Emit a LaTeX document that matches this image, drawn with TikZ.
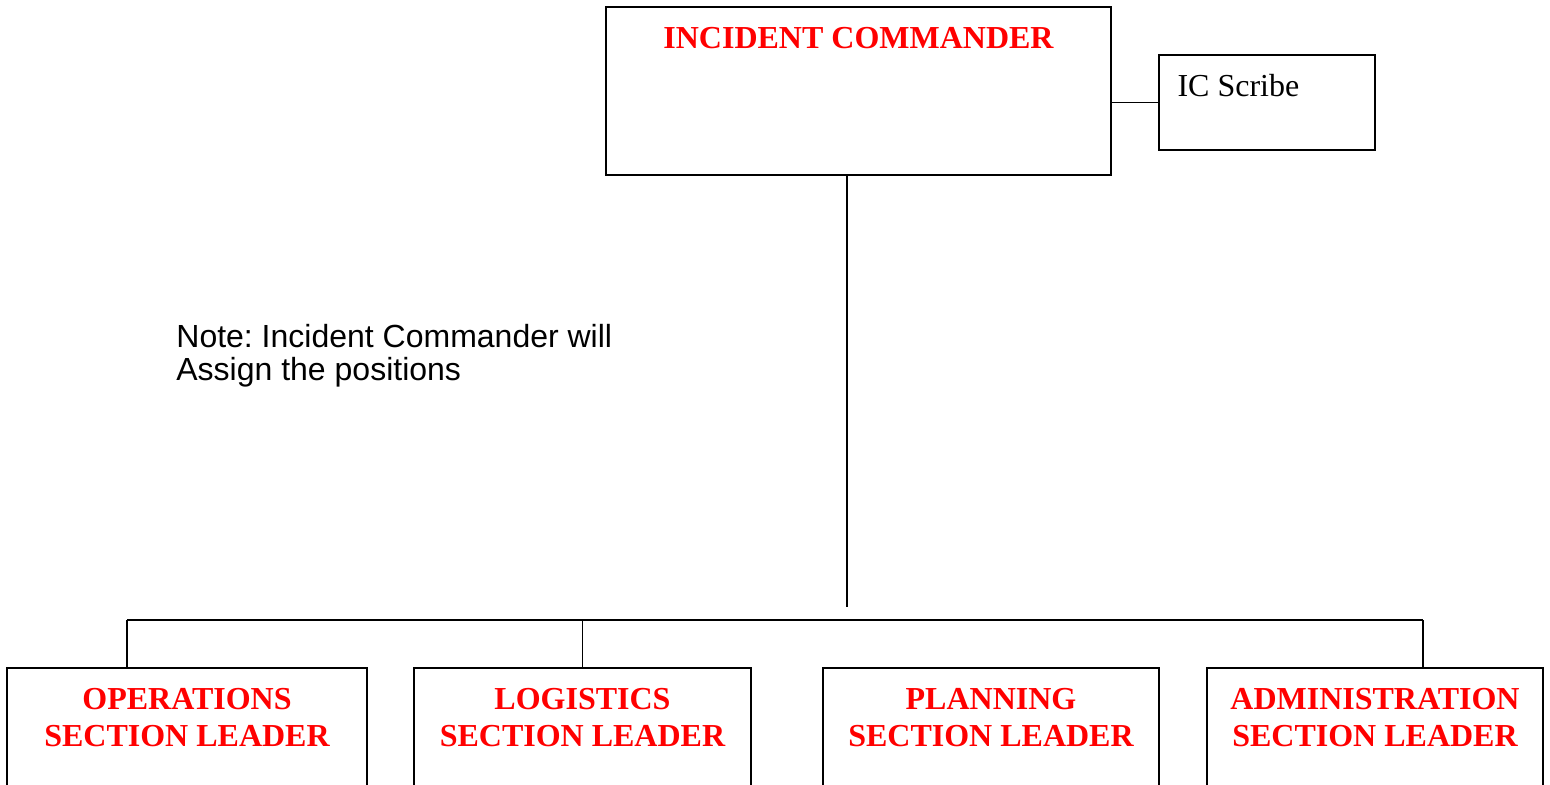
\documentclass[tikz,border=0pt]{standalone}
\usepackage{fontspec}
\setmainfont{Liberation Serif}
\newfontfamily\notefont{Liberation Sans}
\definecolor{titlered}{RGB}{255,0,0}
\frenchspacing
\begin{document}
\begin{tikzpicture}[x=0.5pt,y=-0.5pt,
  boxstyle/.style={draw=black, line width=0.9pt, fill=white, inner sep=0pt},
  titletext/.style={text=titlered, font=\fontsize{16}{18.5}\selectfont\bfseries, align=center, inner sep=0pt},
  linkstyle/.style={draw=black, line width=0.9pt},
]
\useasboundingbox (0,0) rectangle (1550,784);
\clip (0,0) rectangle (1550,784);
\fill[white] (0,0) rectangle (1550,784);

% top boxes
\node[boxstyle, minimum width=252.5pt, minimum height=84pt] (ic) at (858.5,91) {};
\node[boxstyle, minimum width=108pt, minimum height=47.5pt] (scribe) at (1267,102.5) {};

% section boxes (bottom edges run past the picture)
\node[boxstyle, minimum width=180pt, minimum height=66pt] (ops) at (187,734) {};
\node[boxstyle, minimum width=168.5pt, minimum height=66pt] (log) at (582.5,734) {};
\node[boxstyle, minimum width=168pt, minimum height=66pt] (plan) at (991,734) {};
\node[boxstyle, minimum width=168pt, minimum height=66pt] (adm) at (1375,734) {};

% texts
\node[titletext, anchor=north] (ictext) at ([yshift=-10.5pt]ic.north) {INCIDENT COMMANDER};
\node[anchor=base west, inner sep=0pt, font=\fontsize{16}{18.5}\selectfont] (scribetext)
  at ([xshift=9.5pt,yshift=-21pt]scribe.north west) {IC Scribe};
\node[titletext, anchor=north] (opstext) at ([yshift=-10.5pt]ops.north) {OPERATIONS\\SECTION LEADER};
\node[titletext, anchor=north] (logtext) at ([yshift=-10.5pt]log.north) {LOGISTICS\\SECTION LEADER};
\node[titletext, anchor=north] (plantext) at ([yshift=-10.5pt]plan.north) {PLANNING\\SECTION LEADER};
\node[titletext, anchor=north] (admtext) at ([yshift=-10.5pt]adm.north) {ADMINISTRATION\\SECTION LEADER};
\node[anchor=north west, inner sep=0pt, align=left, font=\notefont\fontsize{16}{16.5}\selectfont] (note)
  at (176,324) {Note: Incident Commander will\\Assign the positions};

% connectors
\coordinate (drop) at (847,607);
\coordinate (barL) at (127,620);
\coordinate (barR) at (1423,620);
\draw[linkstyle] (ic.east |- scribe.west) -- (scribe.west);
\draw[linkstyle] (drop |- ic.south) -- (drop);
\draw[linkstyle] (barL) -- (barR);
\draw[linkstyle] (barL) -- (barL |- ops.north);
\draw[linkstyle] (log.north |- barL) -- (log.north);
\draw[linkstyle] (barR) -- (barR |- adm.north);
\end{tikzpicture}
\end{document}
